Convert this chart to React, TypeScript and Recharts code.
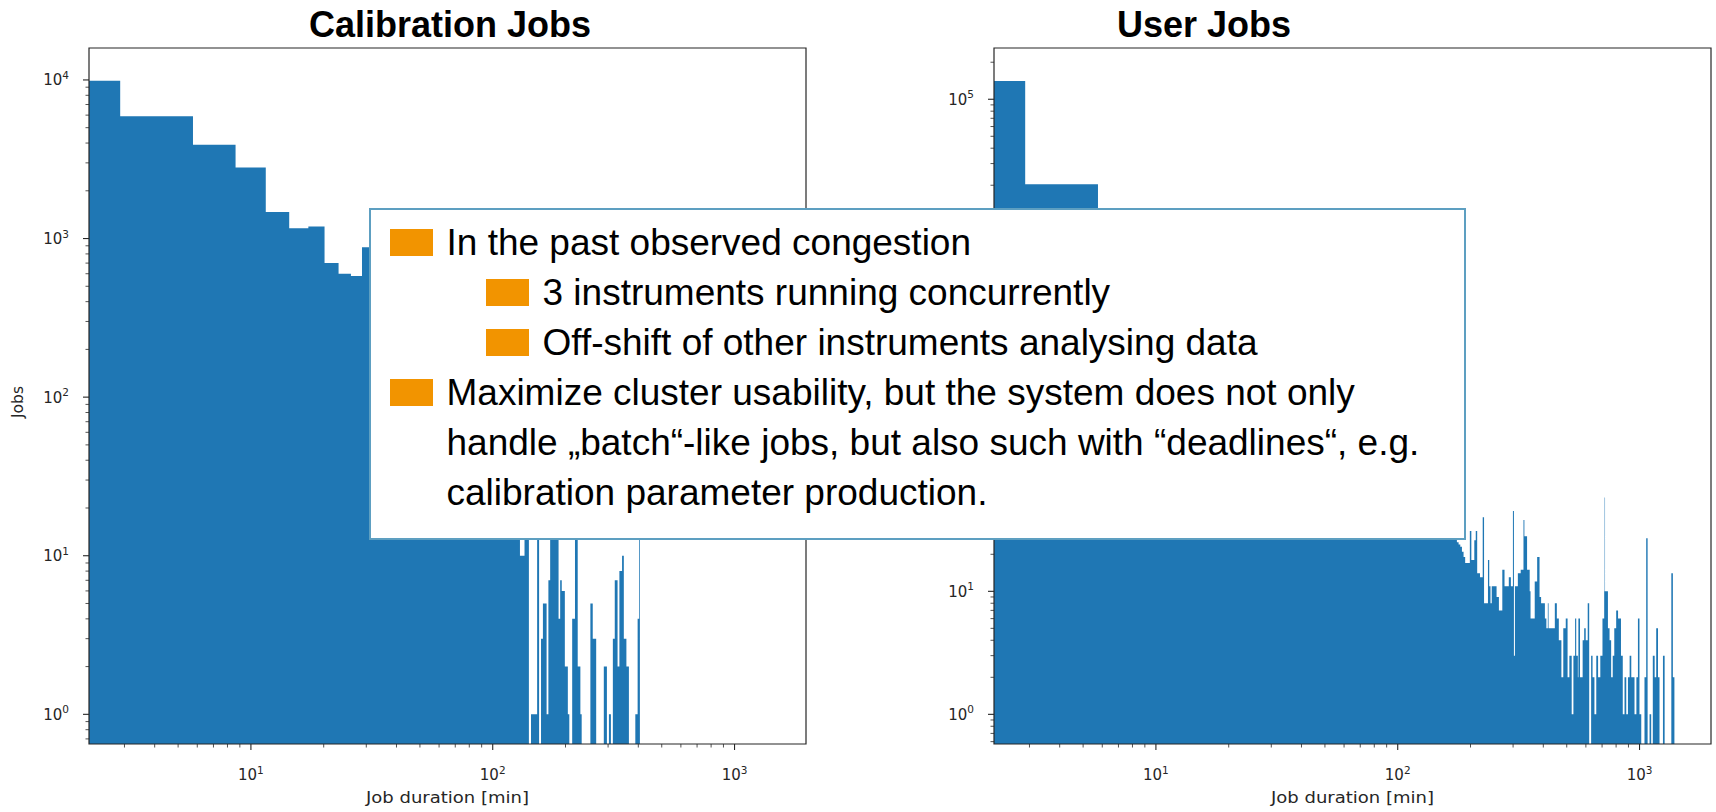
import React from 'react'
import { ComposedChart, Area, XAxis, YAxis, ReferenceArea } from 'recharts'

// histogram bins: 500 equal bins of 2.88 min, drawn on a log x-axis
const BIN_WIDTH = 2.88
const X_DOMAIN = [2.14, 1975]
const CALIB_Y_DOMAIN = [0.65, 15900]
const USER_Y_DOMAIN = [0.574, 261000]

const X_TICKS = [3, 4, 5, 6, 7, 8, 9, 10, 20, 30, 40, 50, 60, 70, 80, 90, 100, 200, 300, 400, 500, 600, 700, 800, 900, 1000]
const CALIB_Y_TICKS = [0.7, 0.8, 0.9, 1, 2, 3, 4, 5, 6, 7, 8, 9, 10, 20, 30, 40, 50, 60, 70, 80, 90, 100, 200, 300, 400, 500, 600, 700, 800, 900, 1000, 2000, 3000, 4000, 5000, 6000, 7000, 8000, 9000, 10000]
const USER_Y_TICKS = [0.6, 0.7, 0.8, 0.9, 1, 2, 3, 4, 5, 6, 7, 8, 9, 10, 20, 30, 40, 50, 60, 70, 80, 90, 100, 200, 300, 400, 500, 600, 700, 800, 900, 1000, 2000, 3000, 4000, 5000, 6000, 7000, 8000, 9000, 10000, 20000, 30000, 40000, 50000, 60000, 70000, 80000, 90000, 100000, 200000]
// tick labels that are not covered by the note box
const CALIB_Y_LABELS = [1, 10, 100, 1000, 10000]
const USER_Y_LABELS = [1, 10, 100000]

// jobs per bin (bin i covers i*2.88 .. (i+1)*2.88 min)
const CALIB_COUNTS = [
    9900, 5900, 3900, 2800, 1470, 1160, 1190, 700, 600, 580,
    880, 760, 640, 560, 480, 420, 360, 310, 270, 235,
    205, 180, 160, 140, 120, 105, 92, 82, 72, 64,
    57, 51, 46, 42, 38, 34, 31, 28, 26, 24,
    22, 20, 19, 18, 16, 10, 10, 15, 14, 0,
    1, 1, 1, 15, 0, 3, 5, 5, 1, 7,
    14, 14, 13, 14, 14, 4, 7, 6, 6, 2,
    2, 1, 0, 0, 4, 4, 15, 15, 2, 2,
    1, 0, 0, 0, 0, 0, 0, 0, 5, 5,
    3, 3, 3, 0, 0, 0, 0, 0, 0, 0,
    2, 2, 2, 0, 0, 1, 1, 0, 0, 3,
    3, 7, 7, 7, 2, 2, 8, 8, 8, 10,
    10, 3, 3, 3, 2, 2, 2, 0, 0, 0,
    0, 0, 0, 0, 0, 1, 1, 1, 4, 4,
    15,
]

const USER_COUNTS = [
    141000, 20400, 7800, 4600, 3200, 2400, 1900, 1500, 1250, 1050,
    900, 780, 680, 600, 530, 470, 420, 380, 340, 310,
    280, 255, 235, 215, 195, 180, 165, 152, 140, 130,
    120, 112, 104, 97, 91, 85, 80, 75, 70, 66,
    62, 59, 56, 53, 50, 48, 46, 44, 42, 40,
    38, 37, 36, 35, 34, 33, 32, 31, 30, 28,
    27, 25, 24, 23, 21, 19, 17, 17, 17, 31,
    18, 18, 26, 31, 14, 14, 13, 13, 40, 8,
    8, 8, 18, 11, 8, 11, 11, 11, 11, 9,
    9, 7, 7, 7, 15, 15, 11, 11, 11, 11,
    13, 13, 11, 11, 45, 3, 11, 11, 11, 14,
    14, 14, 15, 15, 15, 38, 28, 28, 28, 15,
    15, 15, 10, 6, 6, 6, 6, 6, 12, 12,
    12, 19, 19, 19, 9, 9, 8, 8, 8, 8,
    8, 6, 6, 5, 5, 8, 5, 5, 5, 5,
    5, 5, 5, 5, 5, 8, 8, 8, 6, 6,
    6, 4, 4, 4, 4, 2, 2, 2, 5, 5,
    5, 5, 6, 6, 6, 2, 2, 2, 3, 3,
    3, 3, 1, 1, 1, 3, 3, 3, 6, 6,
    3, 3, 3, 2, 6, 6, 6, 2, 2, 2,
    2, 2, 4, 4, 4, 5, 5, 5, 4, 4,
    4, 4, 8, 8, 8, 0, 0, 0, 0, 3,
    3, 3, 2, 2, 2, 2, 1, 1, 1, 1,
    3, 3, 3, 3, 2, 2, 2, 2, 2, 3,
    3, 3, 3, 3, 6, 6, 6, 6, 10, 58,
    10, 10, 10, 10, 10, 10, 10, 5, 5, 5,
    5, 4, 4, 4, 4, 2, 2, 2, 2, 3,
    3, 3, 3, 5, 5, 5, 5, 5, 7, 7,
    7, 7, 7, 6, 6, 6, 6, 6, 6, 6,
    6, 3, 3, 3, 3, 3, 1, 1, 1, 1,
    1, 2, 2, 2, 2, 2, 1, 1, 1, 1,
    1, 2, 2, 2, 2, 2, 3, 3, 3, 3,
    3, 2, 2, 2, 2, 2, 2, 2, 2, 2,
    2, 1, 1, 1, 1, 1, 1, 2, 2, 2,
    2, 2, 6, 6, 6, 6, 6, 1, 1, 1,
    1, 1, 1, 0, 0, 0, 0, 0, 0, 0,
    0, 0, 0, 0, 2, 2, 2, 2, 2, 2,
    27, 27, 27, 27, 27, 0, 0, 0, 0, 0,
    0, 0, 1, 1, 1, 1, 1, 1, 0, 0,
    0, 0, 0, 0, 3, 3, 3, 3, 3, 3,
    3, 2, 2, 2, 2, 2, 2, 5, 5, 5,
    5, 5, 5, 5, 2, 2, 2, 2, 2, 2,
    0, 0, 0, 0, 0, 0, 0, 0, 0, 0,
    0, 0, 0, 0, 3, 3, 3, 3, 3, 3,
    3, 0, 0, 0, 0, 0, 0, 0, 0, 0,
    0, 0, 0, 0, 0, 0, 0, 0, 0, 0,
    0, 0, 0, 0, 0, 0, 0, 0, 0, 0,
    14, 14, 14, 14, 14, 14, 14, 2, 2, 2,
    2, 2, 2, 2,
]

const BLUE = '#1f77b4'
const ORANGE = '#f29400'
const INK = '#262626'

// turn bin counts into step points; empty bins become gaps
const toSteps = (counts: number[]) => {
    const pts: { x: number; y: number | null }[] = []
    counts.forEach((c, i) => {
        const right = (i + 1) * BIN_WIDTH
        if (right <= X_DOMAIN[0]) return
        const left = Math.max(i * BIN_WIDTH, X_DOMAIN[0])
        if (c > 0) {
            pts.push({ x: left, y: c }, { x: right, y: c })
        } else {
            pts.push({ x: (left + right) / 2, y: null })
        }
    })
    return pts
}

const isDecade = (v: number) => Math.abs(Math.log10(v) - Math.round(Math.log10(v))) < 1e-6

const PowerLabel = ({ x, y, exp, anchor }: any) => (
    <text x={x} y={y} textAnchor={anchor} fontFamily="DejaVu Sans" fontSize={15} fill={INK}>
        10<tspan dy={-6.5} fontSize={10.5}>{exp}</tspan>
    </text>
)

const XTick = ({ x, y, payload }: any) => {
    const major = isDecade(payload.value)
    return (
        <g>
            <line x1={x} x2={x} y1={y} y2={y + (major ? 6 : 3.5)} stroke={INK} strokeWidth={major ? 1.1 : 0.8} />
            {major && <PowerLabel x={x} y={y + 36} exp={Math.round(Math.log10(payload.value))} anchor="middle" />}
        </g>
    )
}

const YTick = ({ x, y, payload, labels }: any) => {
    const v = payload.value
    const major = isDecade(v)
    const showLabel = major && labels.some((l: number) => Math.abs(l - v) < 1e-6 * l)
    return (
        <g>
            <line x1={x} x2={x - (major ? 6 : 3.5)} y1={y} y2={y} stroke={INK} strokeWidth={major ? 1.1 : 0.8} />
            {showLabel && <PowerLabel x={x - 20} y={y + 5.5} exp={Math.round(Math.log10(v))} anchor="end" />}
        </g>
    )
}

interface PanelProps {
    counts: number[]
    yDomain: number[]
    yTicks: number[]
    yLabels: number[]
    showYTitle: boolean
    width: number
    yAxisWidth: number
    rightMargin: number
}

function HistPanel({ counts, yDomain, yTicks, yLabels, showYTitle, width, yAxisWidth, rightMargin }: PanelProps) {
    const data = toSteps(counts)
    return (
        <ComposedChart width={width} height={812} data={data} margin={{ top: 48, right: rightMargin, bottom: 0, left: 0 }}>
            <XAxis
                dataKey="x"
                type="number"
                scale="log"
                domain={X_DOMAIN}
                allowDataOverflow
                ticks={X_TICKS}
                interval={0}
                height={68}
                axisLine={false}
                tickLine={false}
                tickSize={0}
                tickMargin={0}
                tick={<XTick />}
                label={(p: any) => {
                    const vb = p.viewBox
                    return (
                        <text x={vb.x + vb.width / 2} y={vb.y + 59} textAnchor="middle" fontFamily="DejaVu Sans" fontSize={16}
                            textLength={163} lengthAdjust="spacingAndGlyphs" fill={INK}>
                            Job duration [min]
                        </text>
                    )
                }}
            />
            <YAxis
                type="number"
                scale="log"
                domain={yDomain}
                allowDataOverflow
                ticks={yTicks}
                interval={0}
                width={yAxisWidth}
                axisLine={false}
                tickLine={false}
                tickSize={0}
                tickMargin={0}
                tick={<YTick labels={yLabels} />}
                label={showYTitle ? (p: any) => {
                    const vb = p.viewBox
                    const lx = vb.x + vb.width - 66
                    const ly = vb.y + vb.height / 2 + 6
                    return (
                        <text x={lx} y={ly} transform={`rotate(-90, ${lx}, ${ly})`} textAnchor="middle"
                            fontFamily="DejaVu Sans" fontSize={15.5} fill={INK}>
                            Jobs
                        </text>
                    )
                } : undefined}
            />
            <Area
                dataKey="y"
                type="linear"
                fill={BLUE}
                fillOpacity={1}
                stroke="none"
                baseValue={yDomain[0]}
                connectNulls={false}
                dot={false}
                activeDot={false}
                isAnimationActive={false}
            />
            <ReferenceArea
                x1={X_DOMAIN[0]}
                x2={X_DOMAIN[1]}
                y1={yDomain[0]}
                y2={yDomain[1]}
                fill="none"
                stroke={INK}
                strokeWidth={1.2}
                strokeOpacity={1}
                ifOverflow="visible"
            />
        </ComposedChart>
    )
}

const bulletStyle = (left: number): React.CSSProperties => ({
    position: 'absolute',
    left,
    top: 11.5,
    width: 43,
    height: 27,
    background: ORANGE,
})

export default function App() {
    return (
        <div style={{ position: 'absolute', left: 0, top: 0, width: 1716, height: 812, background: '#fff', overflow: 'hidden' }}>
            <div style={{ position: 'absolute', left: 0, top: 0 }}>
                <HistPanel counts={CALIB_COUNTS} yDomain={CALIB_Y_DOMAIN} yTicks={CALIB_Y_TICKS} yLabels={CALIB_Y_LABELS}
                    showYTitle width={860} yAxisWidth={89} rightMargin={54} />
            </div>
            <div style={{ position: 'absolute', left: 860, top: 0 }}>
                <HistPanel counts={USER_COUNTS} yDomain={USER_Y_DOMAIN} yTicks={USER_Y_TICKS} yLabels={USER_Y_LABELS}
                    showYTitle={false} width={856} yAxisWidth={134} rightMargin={5} />
            </div>

            <svg width={1716} height={48} style={{ position: 'absolute', left: 0, top: 0 }}>
                <text x={450} y={36.5} textAnchor="middle" fontFamily="'Liberation Sans', Arial, sans-serif" fontWeight="bold" fontSize={36} fill="#000">
                    Calibration Jobs
                </text>
                <text x={1204} y={36.5} textAnchor="middle" fontFamily="'Liberation Sans', Arial, sans-serif" fontWeight="bold" fontSize={36} fill="#000">
                    User Jobs
                </text>
            </svg>

            <div
                style={{
                    position: 'absolute',
                    left: 369,
                    top: 208,
                    width: 1097,
                    height: 332,
                    boxSizing: 'border-box',
                    border: '2.5px solid #5d9fc1',
                    background: '#fff',
                    paddingTop: 7.5,
                    fontFamily: "'Liberation Sans', Arial, sans-serif",
                    fontSize: 37,
                    lineHeight: '50px',
                    color: '#000',
                    whiteSpace: 'nowrap',
                }}
            >
                <div style={{ position: 'relative', paddingLeft: 75.5 }}>
                    <span style={bulletStyle(18.5)} />
                    In the past observed congestion
                </div>
                <div style={{ position: 'relative', paddingLeft: 171.5 }}>
                    <span style={bulletStyle(114.5)} />
                    3 instruments running concurrently
                </div>
                <div style={{ position: 'relative', paddingLeft: 171.5 }}>
                    <span style={bulletStyle(114.5)} />
                    Off-shift of other instruments analysing data
                </div>
                <div style={{ position: 'relative', paddingLeft: 75.5 }}>
                    <span style={bulletStyle(18.5)} />
                    Maximize cluster usability, but the system does not only
                    <br />
                    handle „batch“-like jobs, but also such with “deadlines“, e.g.
                    <br />
                    calibration parameter production.
                </div>
            </div>
        </div>
    )
}
